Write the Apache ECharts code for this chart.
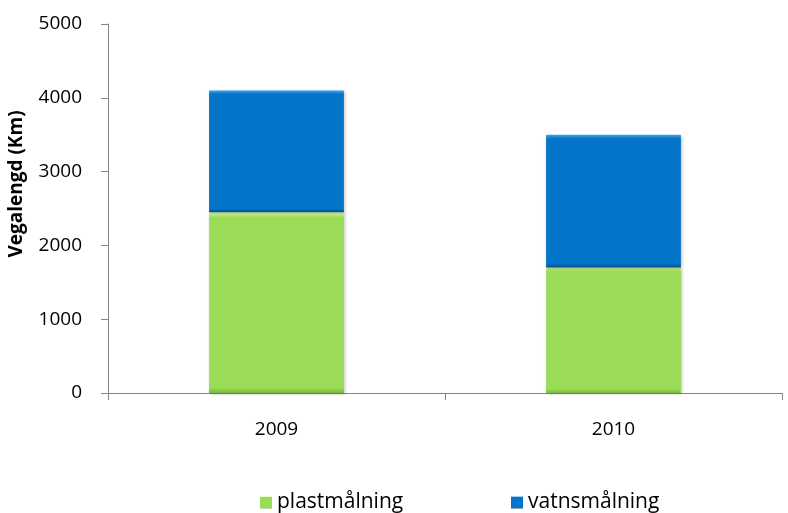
<!DOCTYPE html>
<html><head><meta charset="utf-8">
<script src="https://cdn.jsdelivr.net/npm/echarts@6/dist/echarts.min.js"></script>
<style>html,body{margin:0;padding:0;background:#fff}#c{width:788px;height:513px}</style>
</head><body><div id="c"></div>
<script>
const categories = ['2009', '2010'];
const plastValues = [2450, 1700];
const vatnValues = [1650, 1800];
const seriesNames = ['plastmålning', 'vatnsmålning'];
const yTitle = 'Vegalengd (Km)';

const font = "'Open Sans', 'Liberation Sans', sans-serif";
const chart = echarts.init(document.getElementById('c'));
function bevel(base, light, dark) {
  return new echarts.graphic.LinearGradient(0, 0, 0, 1, [
    {offset: 0, color: light}, {offset: 0.03, color: base},
    {offset: 0.97, color: base}, {offset: 1, color: dark}
  ]);
}
chart.setOption({
  animation: false,
  grid: {left: 108, right: 6, top: 24, bottom: 120},
  graphic: [{
    type: 'text', x: 17, y: 184, rotation: Math.PI / 2,
    style: {text: yTitle, fontFamily: font, fontSize: 19, fontWeight: 'bold', fill: '#000',
            align: 'center', verticalAlign: 'middle'}
  }],
  legend: [
    {data: [seriesNames[0]], left: 255, top: 487, itemWidth: 12, itemHeight: 12, itemGap: 5,
     textStyle: {fontFamily: font, fontSize: 21, color: '#000'}, icon: 'rect'},
    {data: [seriesNames[1]], left: 506, top: 487, itemWidth: 12, itemHeight: 12, itemGap: 5,
     textStyle: {fontFamily: font, fontSize: 21, color: '#000'}, icon: 'rect'}
  ],
  xAxis: {
    type: 'category', data: categories,
    axisLine: {lineStyle: {color: '#868686', width: 1}},
    axisTick: {show: true, length: 7, lineStyle: {color: '#868686'}},
    axisLabel: {fontFamily: font, fontSize: 19, color: '#000', margin: 27}
  },
  yAxis: {
    type: 'value', min: 0, max: 5000, interval: 1000,
    axisLine: {show: true, lineStyle: {color: '#868686', width: 1}},
    axisTick: {show: true, length: 7, lineStyle: {color: '#868686'}},
    splitLine: {show: false},
    axisLabel: {fontFamily: font, fontSize: 19, color: '#000', margin: 26,
                formatter: v => String(v)}
  },
  series: [
    {name: seriesNames[0], type: 'bar', stack: 'a', data: plastValues, barWidth: '40%',
     itemStyle: {color: bevel('#9ADC58', '#D4F79A', '#7CB840'),
       shadowColor: 'rgba(0,0,0,0.25)', shadowBlur: 3, shadowOffsetX: 1, shadowOffsetY: 1}},
    {name: seriesNames[1], type: 'bar', stack: 'a', data: vatnValues, barWidth: '40%',
     itemStyle: {color: bevel('#0474C8', '#3FA6EE', '#0A4E86'),
       shadowColor: 'rgba(0,0,0,0.25)', shadowBlur: 3, shadowOffsetX: 1, shadowOffsetY: 1}}
  ]
});
</script></body></html>
